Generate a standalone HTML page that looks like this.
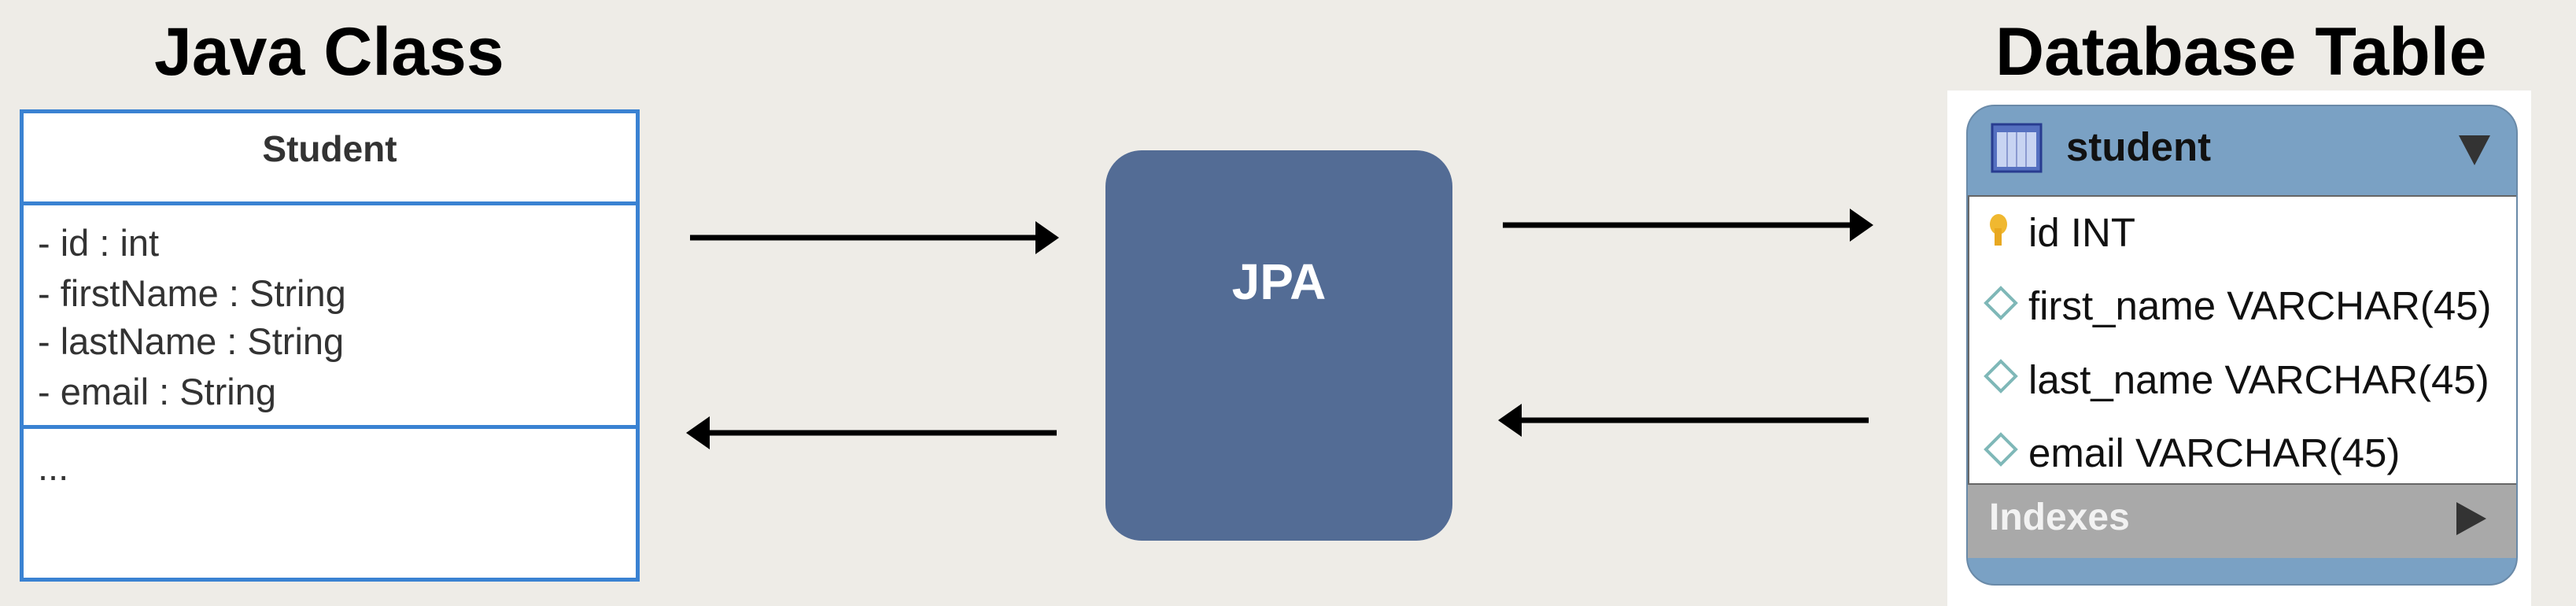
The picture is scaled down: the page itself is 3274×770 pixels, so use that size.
<!DOCTYPE html>
<html><head><meta charset="utf-8"><style>
*{margin:0;padding:0;box-sizing:border-box}
body{width:3274px;height:770px;background:#eeece7;position:relative;overflow:hidden;font-family:"Liberation Sans",sans-serif}
.abs{position:absolute}
.title{font-weight:bold;font-size:86px;color:#000;white-space:nowrap;line-height:1}
.attr{position:absolute;left:48px;font-size:47px;color:#333;line-height:1;white-space:nowrap}
.row{position:absolute;left:2578px;font-size:51px;color:#111;line-height:1;white-space:nowrap}
</style></head><body>
<div class="abs title" style="left:196px;top:23px">Java Class</div>
<div class="abs title" style="left:2536px;top:23px">Database Table</div>

<!-- UML box -->
<div class="abs" style="left:25px;top:139px;width:788px;height:600px;background:#fff;border:5px solid #3a82d2"></div>
<div class="abs" style="left:25px;top:256px;width:788px;height:5px;background:#3a82d2"></div>
<div class="abs" style="left:25px;top:540px;width:788px;height:5px;background:#3a82d2"></div>
<div class="abs" style="left:25px;top:166px;width:788px;text-align:center;font-size:46px;font-weight:bold;color:#333;line-height:1">Student</div>
<div class="attr" style="top:285px">- id : int</div>
<div class="attr" style="top:349px">- firstName : String</div>
<div class="attr" style="top:410px">- lastName : String</div>
<div class="attr" style="top:474px">- email : String</div>
<div class="attr" style="top:570px">...</div>

<!-- JPA -->
<div class="abs" style="left:1405px;top:191px;width:441px;height:496px;background:#536c95;border-radius:46px"></div>
<div class="abs" style="left:1405px;top:326px;width:441px;text-align:center;color:#fff;font-weight:bold;font-size:64px;line-height:1">JPA</div>

<svg class="abs" style="left:0;top:0" width="3274" height="770">
<g stroke="#000" stroke-width="7" fill="#000">
<line x1="877" y1="302" x2="1320" y2="302"/>
<polygon points="1346,302 1316,281 1316,323" stroke="none"/>
<line x1="900" y1="550" x2="1343" y2="550"/>
<polygon points="872,550 902,529 902,571" stroke="none"/>
<line x1="1910" y1="286" x2="2355" y2="286"/>
<polygon points="2381,286 2351,265 2351,307" stroke="none"/>
<line x1="1932" y1="534" x2="2375" y2="534"/>
<polygon points="1904,534 1934,513 1934,555" stroke="none"/>
</g>
</svg>

<!-- DB table -->
<div class="abs" style="left:2475px;top:115px;width:742px;height:655px;background:#fff"></div>
<div class="abs" style="left:2499px;top:133px;width:701px;height:611px;background:#7aa1c4;border-radius:36px;border:2px solid #6a8aa8;overflow:hidden">
  <div class="abs" style="left:0;top:113px;width:699px;height:368px;background:#fff;border:2px solid #666"></div>
  <div class="abs" style="left:0;top:481px;width:699px;height:93px;background:#a9a9a9"></div>
</div>
<svg class="abs" style="left:0;top:0" width="3274" height="770">
<rect x="2532" y="158" width="62" height="60" fill="#5570c0" stroke="#283c90" stroke-width="3"/>
<rect x="2538" y="168" width="50" height="44" fill="#c8d4f2"/>
<g stroke="#8b9ad0" stroke-width="2"><line x1="2551" y1="168" x2="2551" y2="212"/><line x1="2563" y1="168" x2="2563" y2="212"/><line x1="2575" y1="168" x2="2575" y2="212"/></g>
<polygon points="3125,172 3165,172 3145,210" fill="#333"/>
<polygon points="3122,638 3122,680 3160,659" fill="#333"/>
<ellipse cx="2540" cy="285" rx="11" ry="13" fill="#f0b830"/>
<rect x="2535" y="290" width="9" height="22" fill="#e8a820"/>
<g fill="#fff" stroke="#7fb8b8" stroke-width="4">
<polygon points="2543,366 2562,385 2543,404 2524,385"/>
<polygon points="2543,459 2562,478 2543,497 2524,478"/>
<polygon points="2543,552 2562,571 2543,590 2524,571"/>
</g>
</svg>
<div class="abs" style="left:2626px;top:161px;font-size:51px;font-weight:bold;color:#111;line-height:1">student</div>
<div class="row" style="top:270px">id INT</div>
<div class="row" style="top:363px">first_name VARCHAR(45)</div>
<div class="row" style="top:457px">last_name VARCHAR(45)</div>
<div class="row" style="top:550px">email VARCHAR(45)</div>
<div class="abs" style="left:2528px;top:634px;font-size:48px;font-weight:bold;color:#f2f2f2;line-height:1">Indexes</div>
</body></html>
